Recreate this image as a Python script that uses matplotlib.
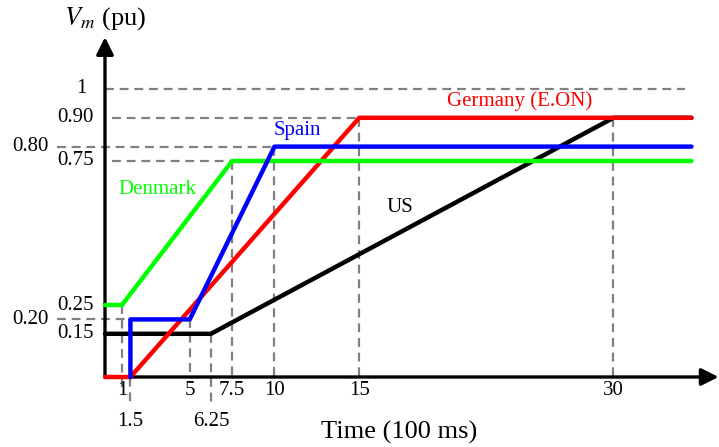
import matplotlib
matplotlib.use("Agg")
import matplotlib.pyplot as plt

plt.rcParams['font.family'] = ['Liberation Serif', 'DejaVu Serif']
plt.rcParams['mathtext.fontset'] = 'stix'

# voltage-time profiles (time in 100 ms, voltage in pu)
t_end = 34.6
germany_t = [0, 1.5, 15, t_end]
germany_v = [0, 0, 0.9, 0.9]
spain_t = [1.5, 1.5, 5, 10, t_end]
spain_v = [0, 0.2, 0.2, 0.8, 0.8]
denmark_t = [0, 1, 7.5, t_end]
denmark_v = [0.25, 0.25, 0.75, 0.75]
us_t = [0, 6.25, 30, t_end]
us_v = [0.15, 0.15, 0.9, 0.9]

# marked time instants and the voltage where each guide line starts
x_marks = [1, 1.5, 5, 6.25, 7.5, 10, 15, 30]
x_mark_v = [0.25, 0.2, 0.2, 0.15, 0.75, 0.8, 0.9, 0.9]
x_labels = ['1', '1.5', '5', '6.25', '7.5', '10', '15', '30']
x_low = ['1.5', '6.25']

y_marks = [1, 0.9, 0.8, 0.75, 0.25, 0.2, 0.15]
y_labels = ['1', '0.90', '0.80', '0.75', '0.25', '0.20', '0.15']
y_far = ['0.80', '0.20']

fig = plt.figure(figsize=(7.19, 4.47), dpi=100)
ax = fig.add_axes([0, 0, 1, 1])
px = 16.95
py = 288.0
ax.set_xlim(-105 / px, (719 - 105) / px)
ax.set_ylim(-(447 - 377) / py, 377 / py)
ax.axis('off')

dash = dict(color='#808080', lw=1.6, ls=(0, (4, 2.6)), zorder=1)

# horizontal guides
ax.plot([0, 34.2], [1, 1], **dash)
ax.plot([0.4, 15], [0.9, 0.9], **dash)
ax.plot([-2.85, 10], [0.8, 0.8], **dash)
ax.plot([0.4, 7.5], [0.75, 0.75], **dash)
ax.plot([-2.85, 1.5], [0.2, 0.2], **dash)

# vertical guides
for xm, vm, lab in zip(x_marks, x_mark_v, x_labels):
    if lab in x_low:
        bottom = -0.1
    elif lab == '1':
        bottom = -0.035
    else:
        bottom = 0
    ax.plot([xm, xm], [vm, bottom], **dash)

# axes with arrows
ax.annotate('', xy=(36.2, 0), xytext=(0, 0),
            arrowprops=dict(arrowstyle='-|>', lw=2.4, color='k',
                            mutation_scale=26, shrinkA=0, shrinkB=0), zorder=3)
ax.annotate('', xy=(0, 1.18), xytext=(0, 0),
            arrowprops=dict(arrowstyle='-|>', lw=2.4, color='k',
                            mutation_scale=26, shrinkA=0, shrinkB=0), zorder=3)

lw = 3.2
ax.plot(us_t, us_v, color='black', lw=lw, solid_capstyle='round', zorder=4)
ax.plot(germany_t, germany_v, color='#ff0000', lw=lw, solid_capstyle='round', zorder=5)
ax.plot(denmark_t, denmark_v, color='#00ff00', lw=lw, solid_capstyle='round', zorder=6)
ax.plot(spain_t, spain_v, color='#0000ff', lw=lw, solid_capstyle='round', zorder=7)

fs = 15
for xm, lab in zip(x_marks, x_labels):
    yy = -0.153 if lab in x_low else -0.046
    ax.text(xm, yy, lab, ha='center', va='center', fontsize=fs)

for ym, lab in zip(y_marks, y_labels):
    if lab in y_far:
        xx = -3.35
    elif lab == '1':
        xx = -1.1
    else:
        xx = -0.66
    ax.text(xx, ym, lab, ha='right', va='center', fontsize=fs)

ax.text((399 - 105) / px, -(432 - 377) / py, 'Time (100 ms)',
        ha='center', va='center', fontsize=19)
ax.text(0, (377 - 19) / py, r'$V_m$ (pu)',
        ha='center', va='center', fontsize=19)

ax.text((520 - 105) / px, (377 - 101) / py, 'Germany (E.ON)', color='#ff0000',
        ha='center', va='center', fontsize=fs)
ax.text((297 - 105) / px, (377 - 130) / py, 'Spain', color='#0000ff',
        ha='center', va='center', fontsize=fs)
ax.text((157 - 105) / px, (377 - 190) / py, 'Denmark', color='#00ff00',
        ha='center', va='center', fontsize=fs)
ax.text((400 - 105) / px, (377 - 208) / py, 'US', color='black',
        ha='center', va='center', fontsize=fs)

fig.savefig('out.png', dpi=100)
